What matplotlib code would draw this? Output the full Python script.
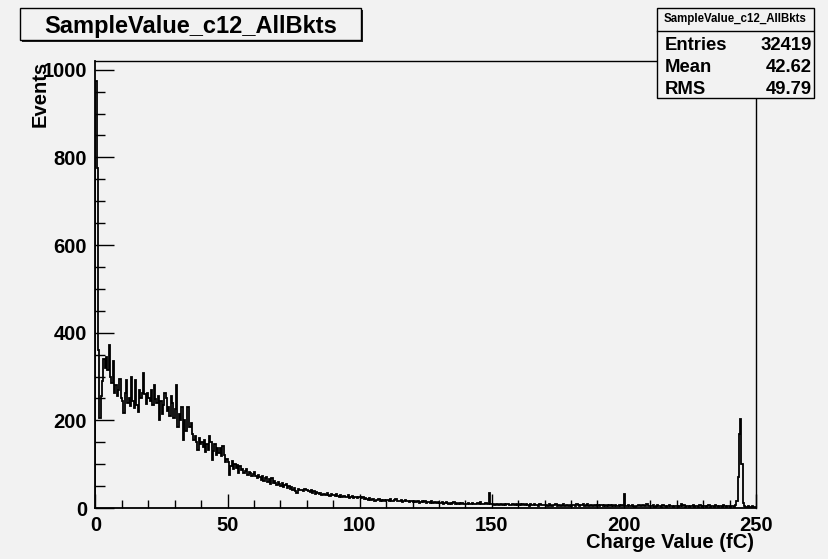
import numpy as np
import matplotlib

matplotlib.use("Agg")
import matplotlib.pyplot as plt
from matplotlib.patches import Rectangle
from matplotlib.lines import Line2D

# histogram contents, 0.5 fC bins from 0 to 250 fC (one row = 10 fC)
counts_000_050 = [
    975, 775, 360, 205, 255, 290, 340, 320, 345, 315, 372, 300, 285, 336, 262, 280, 255, 270, 295, 250,
    245, 216, 262, 291, 240, 250, 232, 300, 245, 228, 293, 235, 219, 270, 250, 262, 307, 260, 238, 262,
    250, 245, 270, 235, 280, 248, 240, 255, 200, 245, 215, 235, 262, 250, 222, 230, 210, 255, 240, 205,
    225, 280, 185, 215, 200, 230, 155, 200, 175, 230, 230, 185, 195, 170, 155, 165, 150, 132, 160, 145,
    150, 140, 155, 128, 145, 132, 164, 150, 109, 130, 147, 120, 138, 125, 136, 118, 142, 120, 105, 112,
]
counts_050_100 = [
    105, 75, 95, 107, 88, 100, 92, 98, 80, 95, 86, 90, 79, 85, 88, 75, 82, 80, 72, 78,
    82, 74, 68, 76, 70, 65, 72, 62, 68, 70, 60, 66, 55, 68, 58, 62, 57, 52, 60, 55,
    50, 56, 48, 52, 55, 46, 50, 44, 48, 42, 46, 38, 34, 44, 40, 42, 41, 38, 44, 40,
    41, 38, 36, 40, 35, 38, 33, 36, 34, 32, 35, 30, 33, 31, 29, 34, 30, 28, 32, 30,
    30, 27, 31, 28, 26, 30, 25, 28, 27, 24, 26, 29, 23, 25, 27, 22, 26, 24, 23, 26,
]
counts_100_150 = [
    24, 22, 25, 20, 23, 21, 19, 22, 18, 20, 21, 17, 19, 18, 20, 16, 19, 17, 18, 15,
    18, 19, 16, 20, 17, 15, 18, 21, 16, 17, 15, 18, 14, 16, 19, 15, 17, 14, 16, 15,
    14, 16, 13, 15, 17, 12, 14, 15, 13, 16, 12, 14, 13, 11, 15, 12, 13, 14, 11, 13,
    12, 11, 13, 10, 12, 14, 11, 10, 12, 9, 11, 13, 10, 11, 9, 12, 10, 11, 9, 10,
    10, 9, 11, 8, 10, 12, 9, 10, 8, 11, 9, 14, 10, 8, 9, 11, 8, 10, 34, 9,
]
counts_150_200 = [
    8, 9, 7, 10, 8, 7, 9, 8, 6, 9, 7, 8, 10, 7, 6, 8, 9, 7, 8, 6,
    7, 8, 6, 9, 7, 6, 8, 7, 5, 8, 6, 7, 9, 6, 7, 5, 8, 6, 7, 6,
    6, 7, 5, 8, 6, 5, 7, 6, 8, 5, 6, 7, 5, 6, 9, 5, 6, 7, 5, 6,
    5, 7, 6, 5, 8, 6, 5, 7, 6, 10, 5, 6, 8, 5, 7, 6, 5, 6, 7, 5,
    6, 5, 7, 6, 4, 6, 5, 7, 5, 6, 4, 6, 5, 7, 5, 4, 6, 5, 6, 5,
]
counts_200_250 = [
    33, 5, 4, 6, 5, 4, 6, 5, 3, 5, 4, 6, 5, 4, 7, 5, 4, 8, 5, 4,
    5, 4, 6, 3, 5, 7, 4, 5, 3, 6, 4, 5, 3, 4, 6, 4, 5, 3, 4, 5,
    4, 3, 5, 9, 4, 6, 3, 5, 4, 3, 5, 4, 6, 3, 4, 5, 3, 7, 4, 3,
    4, 5, 3, 4, 6, 3, 4, 5, 3, 7, 4, 3, 5, 4, 3, 6, 4, 3, 5, 4,
    3, 4, 5, 3, 6, 15, 70, 170, 202, 100, 12, 4, 3, 2, 4, 3, 2, 5, 3, 2,
]
counts = counts_000_050 + counts_050_100 + counts_100_150 + counts_150_200 + counts_200_250

x_low, x_high = 0, 250
y_max = 1020

hist_title = "SampleValue_c12_AllBkts"
x_title = "Charge Value (fC)"
y_title = "Events"
stat_names = ["Entries", "Mean", "RMS"]
stat_values = ["32419", "42.62", "49.79"]

BG = "#f2f2f2"
FONT = "Liberation Sans"
W, H = 829, 559


def fx(px):
    return px / W


def fy(py):
    return 1 - py / H


plt.rcParams["font.family"] = [FONT, "DejaVu Sans"]
plt.rcParams["font.weight"] = "bold"

fig = plt.figure(figsize=(W / 100, H / 100), dpi=100, facecolor=BG)
ax = fig.add_axes([fx(95.5), fy(508), fx(756) - fx(95.5), fy(61) - fy(508)])
ax.set_facecolor(BG)

edges = np.linspace(x_low, x_high, len(counts) + 1)
ax.stairs(counts, edges, color="black", lw=1.3, baseline=0)

ax.set_xlim(x_low, x_high)
ax.set_ylim(0, y_max)
ax.set_xticks(np.arange(0, 251, 50))
ax.set_xticks(np.arange(0, 251, 10), minor=True)
ax.set_yticks(np.arange(0, 1001, 200))
ax.set_yticks(np.arange(0, 1001, 50), minor=True)
ax.tick_params(axis="both", which="both", direction="in", top=False, right=False,
               width=1.0, labelsize=14.5, color="black")
ax.tick_params(axis="x", which="major", length=10, pad=6)
ax.tick_params(axis="x", which="minor", length=5.5)
ax.tick_params(axis="y", which="major", length=13.5, pad=6)
ax.tick_params(axis="y", which="minor", length=7)
for lab in ax.get_xticklabels() + ax.get_yticklabels():
    lab.set_fontweight("bold")
for side in ax.spines.values():
    side.set_linewidth(1.0)
ax.spines["left"].set_linewidth(1.3)
ax.spines["bottom"].set_linewidth(1.3)

fig.text(fx(754), fy(543), x_title, ha="right", va="center", fontsize=14.5, fontweight="bold")
fig.text(fx(40), fy(61), y_title, ha="center", va="top", rotation=90, fontsize=14.5,
         fontweight="bold")

# title pave with shadow
tx0, ty0, tx1, ty1 = 20.5, 7.5, 361, 39.5
fig.patches.append(Rectangle((fx(tx0 + 2), fy(ty1 + 2)), fx(tx1) - fx(tx0), fy(ty0) - fy(ty1),
                             transform=fig.transFigure, facecolor="#222222", edgecolor="none",
                             zorder=5))
fig.patches.append(Rectangle((fx(tx0), fy(ty1)), fx(tx1) - fx(tx0), fy(ty0) - fy(ty1),
                             transform=fig.transFigure, facecolor=BG, edgecolor="black",
                             lw=1.0, zorder=6))
fig.text(fx((tx0 + tx1) / 2), fy(32.5), hist_title, ha="center", va="baseline",
         fontsize=17, fontweight="bold", zorder=7)

# stats box
sx0, sy0, sx1, sy1 = 657, 7.5, 813.5, 97.5
fig.patches.append(Rectangle((fx(sx0 + 1.5), fy(sy1 + 1.5)), fx(sx1) - fx(sx0), fy(sy0) - fy(sy1),
                             transform=fig.transFigure, facecolor="#222222", edgecolor="none",
                             zorder=5))
fig.patches.append(Rectangle((fx(sx0), fy(sy1)), fx(sx1) - fx(sx0), fy(sy0) - fy(sy1),
                             transform=fig.transFigure, facecolor=BG, edgecolor="black",
                             lw=1.0, zorder=6))
fig.lines.append(Line2D([fx(sx0), fx(sx1)], [fy(31), fy(31)], transform=fig.transFigure,
                        color="black", lw=1.0, zorder=7))
fig.text(fx((sx0 + sx1) / 2), fy(19), hist_title, ha="center", va="center",
         fontsize=8.3, fontweight="bold", zorder=7)
for i, (name, val) in enumerate(zip(stat_names, stat_values)):
    base = 50 + i * 21.8
    fig.text(fx(665), fy(base), name, ha="left", va="baseline", fontsize=13.3,
             fontweight="bold", zorder=7)
    fig.text(fx(812), fy(base), val, ha="right", va="baseline", fontsize=13.3,
             fontweight="bold", zorder=7)

fig.savefig("out.png", dpi=100, facecolor=BG)
